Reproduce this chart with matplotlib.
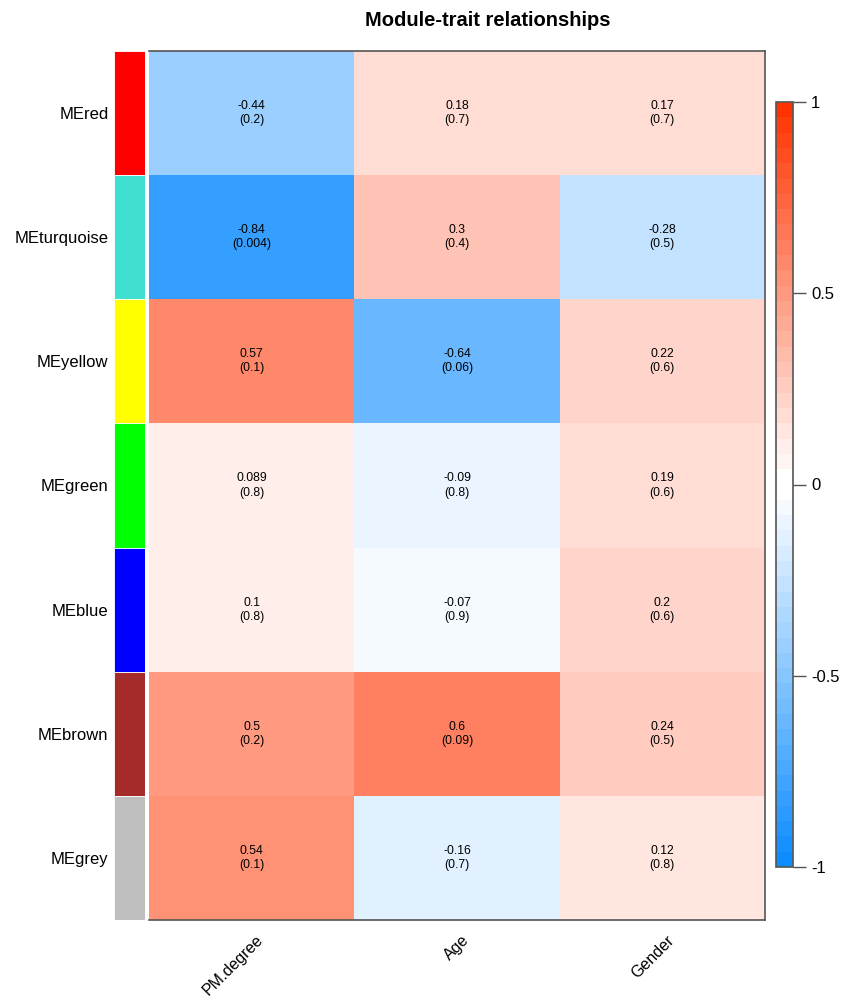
import numpy as np
import matplotlib
matplotlib.use("Agg")
import matplotlib.pyplot as plt
from matplotlib.colors import ListedColormap

plt.rcParams['font.family'] = ['Liberation Sans', 'DejaVu Sans']
plt.rcParams['axes.unicode_minus'] = False

modules = ["MEred", "MEturquoise", "MEyellow", "MEgreen", "MEblue", "MEbrown", "MEgrey"]
module_colors = ["#FF0000", "#40E0D0", "#FFFF00", "#00FF00", "#0000FF", "#A52A2A", "#BEBEBE"]
traits = ["PM.degree", "Age", "Gender"]

cor_pm = [-0.44, -0.84, 0.57, 0.089, 0.1, 0.5, 0.54]
cor_age = [0.18, 0.3, -0.64, -0.09, -0.07, 0.6, -0.16]
cor_gender = [0.17, -0.28, 0.22, 0.19, 0.2, 0.24, 0.12]

p_pm = ["0.2", "0.004", "0.1", "0.8", "0.8", "0.2", "0.1"]
p_age = ["0.7", "0.4", "0.06", "0.8", "0.9", "0.09", "0.7"]
p_gender = ["0.7", "0.5", "0.6", "0.6", "0.6", "0.5", "0.8"]

cor_lbl_pm = ["-0.44", "-0.84", "0.57", "0.089", "0.1", "0.5", "0.54"]
cor_lbl_age = ["0.18", "0.3", "-0.64", "-0.09", "-0.07", "0.6", "-0.16"]
cor_lbl_gender = ["0.17", "-0.28", "0.22", "0.19", "0.2", "0.24", "0.12"]

cor = np.column_stack([cor_pm, cor_age, cor_gender])
pvals = np.column_stack([p_pm, p_age, p_gender])
cor_lbls = np.column_stack([cor_lbl_pm, cor_lbl_age, cor_lbl_gender])

# blue-white-red palette with 50 steps (two white steps in the middle)
blue_end = np.array([0.05, 0.55, 1.0])
red_end = np.array([1.0, 0.2, 0.0])
frac = np.linspace(0, 1, 25)[:, None]
blues = blue_end + (1 - blue_end) * frac
reds = red_end + (1 - red_end) * frac[::-1]
cmap = ListedColormap(np.vstack([blues, reds]))

W, H = 843, 1000
fig = plt.figure(figsize=(W / 100, H / 100), dpi=100)

def px_axes(x0, y0, x1, y1):
    return fig.add_axes([x0 / W, 1 - y1 / H, (x1 - x0) / W, (y1 - y0) / H])

nrow, ncol = cor.shape

# heatmap
ax = px_axes(149, 51, 765, 920)
mesh = ax.pcolormesh(np.arange(ncol + 1), np.arange(nrow + 1), cor,
                     cmap=cmap, vmin=-1, vmax=1)
ax.set_xlim(0, ncol)
ax.set_ylim(nrow, 0)
for i in range(nrow):
    for j in range(ncol):
        ax.text(j + 0.5, i + 0.5, f"{cor_lbls[i, j]}\n({pvals[i, j]})",
                ha="center", va="center", fontsize=8.7, linespacing=1.25)
ax.set_xticks([])
ax.set_yticks([])
ax.spines["left"].set_visible(False)
for s in ["top", "right", "bottom"]:
    ax.spines[s].set_color("#555555")
    ax.spines[s].set_linewidth(1.2)
for j, t in enumerate(traits):
    ax.annotate(t, xy=(j + 0.5, nrow), xycoords="data", xytext=(3, -9),
                textcoords="offset points", rotation=45, ha="right", va="top",
                rotation_mode="anchor", fontsize=11.5)

# module colour strip
sax = px_axes(114, 51, 145, 920)
for i, c in enumerate(module_colors):
    sax.add_patch(plt.Rectangle((0, i), 1, 1, facecolor=c, edgecolor="white",
                                linewidth=0.6))
sax.set_xlim(0, 1)
sax.set_ylim(nrow, 0)
sax.set_xticks([])
sax.set_yticks(np.arange(nrow) + 0.5)
sax.set_yticklabels(modules, fontsize=12)
sax.tick_params(axis="y", length=0, pad=4)
for s in sax.spines.values():
    s.set_visible(False)

# colour legend
cax = px_axes(776, 102, 793, 867)
cb = fig.colorbar(mesh, cax=cax, ticks=[-1, -0.5, 0, 0.5, 1])
cb.ax.set_yticklabels(["-1", "-0.5", "0", "0.5", "1"], fontsize=12)
cb.ax.tick_params(length=9, width=1, color="#555555", pad=4)
cb.outline.set_edgecolor("#555555")
cb.outline.set_linewidth(1.2)

fig.text(488 / W, 1 - 20 / H, "Module-trait relationships", ha="center",
         va="center", fontsize=14.5, fontweight="bold")

fig.savefig("out.png", dpi=100)
